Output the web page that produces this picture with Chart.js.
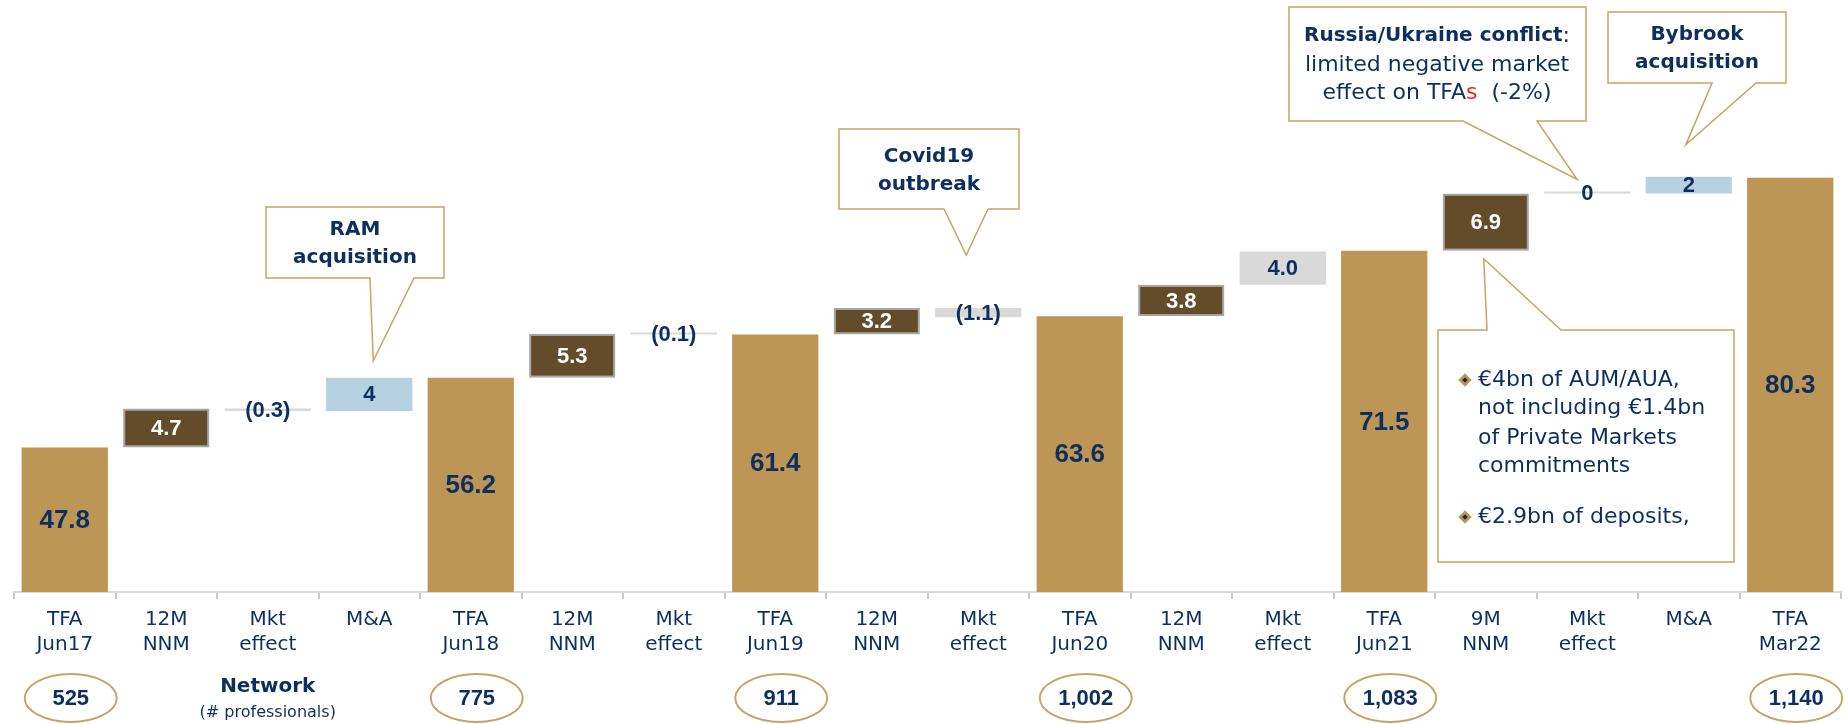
<!DOCTYPE html>
<html>
<head>
<meta charset="utf-8">
<script src="https://cdn.jsdelivr.net/npm/chart.js@4/dist/chart.umd.min.js"></script>
<style>
  html, body { margin: 0; padding: 0; background: #fff; }
</style>
</head>
<body>
<canvas id="tfa" width="1848" height="724"></canvas>
<script>
// waterfall of TFA (EUR bn)
var categories = [['TFA','Jun17'],['12M','NNM'],['Mkt','effect'],'M&A',['TFA','Jun18'],['12M','NNM'],['Mkt','effect'],
                  ['TFA','Jun19'],['12M','NNM'],['Mkt','effect'],['TFA','Jun20'],['12M','NNM'],['Mkt','effect'],
                  ['TFA','Jun21'],['9M','NNM'],['Mkt','effect'],'M&A',['TFA','Mar22']];
var steps = ['total','nnm','mkt','ma','total','nnm','mkt','total','nnm','mkt','total','nnm','mkt','total','nnm','mkt','ma','total'];
var values = [47.8, 4.7, -0.3, 4, 56.2, 5.3, -0.1, 61.4, 3.2, -1.1, 63.6, 3.8, 4.0, 71.5, 6.9, 0, 2, 80.3];
var valueLabels = ['47.8','4.7','(0.3)','4','56.2','5.3','(0.1)','61.4','3.2','(1.1)','63.6','3.8','4.0','71.5','6.9','0','2','80.3'];

// network (# professionals) under the TFA columns
var networkAt = [0, 4, 7, 10, 13, 17];
var networkCount = ['525', '775', '911', '1,002', '1,083', '1,140'];

var yMin = 30.4, yMax = 101.7;

var navy = '#0D2F5F';
var gold = '#BD9655';
var lineGold = '#C9A265';
var font = "'DejaVu Sans', Verdana, sans-serif";
var numFont = "'Liberation Sans', Arial, sans-serif";

var fills = { total: gold, nnm: '#634C2A', mkt: '#D9D9D9', ma: '#B5D1E2' };

// floating bars: totals from the axis floor, steps from the running total
var running = 0;
var bars = values.map(function(v, i) {
    if (steps[i] === 'total') { running = v; return [yMin, v]; }
    var from = running;
    running = running + v;
    return [from, running];
});

function callout(ctx, c) {
    ctx.save();
    ctx.beginPath();
    if (c.side === 'bottom') {
        ctx.moveTo(c.x1, c.y1);
        ctx.lineTo(c.x2, c.y1);
        ctx.lineTo(c.x2, c.y2);
        ctx.lineTo(c.b2, c.y2);
        ctx.lineTo(c.tx, c.ty);
        ctx.lineTo(c.b1, c.y2);
        ctx.lineTo(c.x1, c.y2);
    } else {
        ctx.moveTo(c.x1, c.y1);
        ctx.lineTo(c.b1, c.y1);
        ctx.lineTo(c.tx, c.ty);
        ctx.lineTo(c.b2, c.y1);
        ctx.lineTo(c.x2, c.y1);
        ctx.lineTo(c.x2, c.y2);
        ctx.lineTo(c.x1, c.y2);
    }
    ctx.closePath();
    ctx.fillStyle = '#fff';
    ctx.fill();
    ctx.strokeStyle = lineGold;
    ctx.lineWidth = 1.5;
    ctx.stroke();
    ctx.restore();
}

function centerText(ctx, txt, x, y, f, color) {
    ctx.font = f;
    ctx.fillStyle = color || navy;
    ctx.textAlign = 'center';
    ctx.textBaseline = 'middle';
    ctx.fillText(txt, x, y);
}

var decorations = {
    id: 'decorations',
    afterDatasetsDraw: function(chart) {
        var ctx = chart.ctx;
        var xs = chart.scales.x;
        var meta = chart.getDatasetMeta(0);

        // values on the bars
        meta.data.forEach(function(el, i) {
            var p = el.getCenterPoint();
            var big = steps[i] === 'total';
            centerText(ctx, valueLabels[i], p.x, p.y + 1,
                'bold ' + (big ? 26 : 22) + 'px ' + numFont,
                steps[i] === 'nnm' ? '#fff' : navy);
        });

        var bold = 'bold 20px ' + font;
        var reg = '22px ' + font;

        // RAM acquisition
        callout(ctx, { side: 'bottom', x1: 266, y1: 207, x2: 444, y2: 278, b1: 370, b2: 414,
                       tx: meta.data[3].x + 4, ty: meta.data[3].y - 17 });
        centerText(ctx, 'RAM', 355, 230, bold);
        centerText(ctx, 'acquisition', 355, 258, bold);

        // Covid19 outbreak
        callout(ctx, { side: 'bottom', x1: 839, y1: 129, x2: 1019, y2: 209, b1: 944, b2: 988,
                       tx: meta.data[9].x - 12, ty: meta.data[9].y - 53 });
        centerText(ctx, 'Covid19', 929, 157, bold);
        centerText(ctx, 'outbreak', 929, 185, bold);

        // Russia/Ukraine conflict
        callout(ctx, { side: 'bottom', x1: 1289, y1: 7, x2: 1586, y2: 121, b1: 1463, b2: 1537,
                       tx: meta.data[15].x - 10, ty: meta.data[15].y - 12 });
        ctx.font = bold;
        var w1 = ctx.measureText('Russia/Ukraine conflict').width;
        ctx.font = reg;
        var w2 = ctx.measureText(':').width;
        ctx.textAlign = 'left';
        ctx.textBaseline = 'middle';
        ctx.font = bold;
        ctx.fillStyle = navy;
        ctx.fillText('Russia/Ukraine conflict', 1437 - (w1 + w2) / 2, 36);
        ctx.font = reg;
        ctx.fillText(':', 1437 - (w1 + w2) / 2 + w1, 36);
        centerText(ctx, 'limited negative market', 1437, 65, reg);
        ctx.font = reg;
        var pa = 'effect on TFA', pb = 's', pc = '  (-2%)';
        var wa = ctx.measureText(pa).width, wb = ctx.measureText(pb).width, wc = ctx.measureText(pc).width;
        var sx = 1437 - (wa + wb + wc) / 2;
        ctx.textAlign = 'left';
        ctx.fillStyle = navy;
        ctx.fillText(pa, sx, 93);
        ctx.fillStyle = '#E8261C';
        ctx.fillText(pb, sx + wa, 93);
        ctx.fillStyle = navy;
        ctx.fillText(pc, sx + wa + wb, 93);

        // Bybrook acquisition
        callout(ctx, { side: 'bottom', x1: 1608, y1: 12, x2: 1786, y2: 83, b1: 1712, b2: 1756,
                       tx: meta.data[16].x - 3, ty: meta.data[16].y - 32 });
        centerText(ctx, 'Bybrook', 1697, 35, bold);
        centerText(ctx, 'acquisition', 1697, 63, bold);

        // 9M NNM breakdown
        callout(ctx, { side: 'top', x1: 1438, y1: 330, x2: 1734, y2: 562, b1: 1487, b2: 1561,
                       tx: meta.data[14].x - 2, ty: meta.data[14].base + 8 });
        var bullets = [[380, '€4bn of AUM/AUA,', true], [408, 'not including €1.4bn'], [438, 'of Private Markets'],
                       [466, 'commitments'], [517, '€2.9bn of deposits,', true]];
        bullets.forEach(function(b) {
            if (b[2]) {
                ctx.save();
                ctx.translate(1465, b[0]);
                ctx.rotate(Math.PI / 4);
                ctx.fillStyle = gold;
                ctx.fillRect(-4.8, -4.8, 9.6, 9.6);
                ctx.fillStyle = '#1B2A48';
                ctx.fillRect(-2, -2, 4, 4);
                ctx.restore();
            }
            ctx.font = reg;
            ctx.fillStyle = navy;
            ctx.textAlign = 'left';
            ctx.textBaseline = 'middle';
            ctx.fillText(b[1], 1478, b[0]);
        });

        // network row
        var ny = chart.chartArea.bottom + 106;
        networkAt.forEach(function(idx, k) {
            var cx = xs.getPixelForValue(idx) + 6;
            ctx.save();
            ctx.beginPath();
            ctx.ellipse(cx, ny, 46, 24, 0, 0, Math.PI * 2);
            ctx.strokeStyle = lineGold;
            ctx.lineWidth = 2;
            ctx.stroke();
            ctx.restore();
            centerText(ctx, networkCount[k], cx, ny + 1, 'bold 22px ' + numFont);
        });
        var nx = xs.getPixelForValue(2);
        centerText(ctx, 'Network', nx, chart.chartArea.bottom + 95, 'bold 20px ' + font);
        centerText(ctx, '(# professionals)', nx, chart.chartArea.bottom + 121, '16px ' + font);
    }
};

var ctx = document.getElementById('tfa').getContext('2d');
new Chart(ctx, {
    type: 'bar',
    data: {
        labels: categories,
        datasets: [{
            data: bars,
            backgroundColor: steps.map(function(s) { return fills[s]; }),
            borderColor: steps.map(function(s) { return s === 'nnm' ? '#A6A6A6' : 'rgba(0,0,0,0)'; }),
            borderWidth: steps.map(function(s) { return s === 'nnm' ? 2 : 0; }),
            borderSkipped: false,
            barPercentage: 0.85,
            categoryPercentage: 1,
            minBarLength: 2
        }]
    },
    options: {
        responsive: false,
        animation: false,
        layout: { padding: { left: 14, right: 7, top: 0, bottom: 0 } },
        plugins: { legend: { display: false }, tooltip: { enabled: false } },
        scales: {
            x: {
                grid: { offset: true, drawOnChartArea: false, tickLength: 7, color: '#C8C8C8', lineWidth: 2 },
                border: { color: '#D9D9D9', width: 2 },
                ticks: { color: navy, font: { family: font, size: 20, lineHeight: 1.25 }, padding: 8,
                         autoSkip: false, maxRotation: 0 },
                afterFit: function(s) { s.height = 132; }
            },
            y: { display: false, min: yMin, max: yMax }
        }
    },
    plugins: [decorations]
});
</script>
</body>
</html>
